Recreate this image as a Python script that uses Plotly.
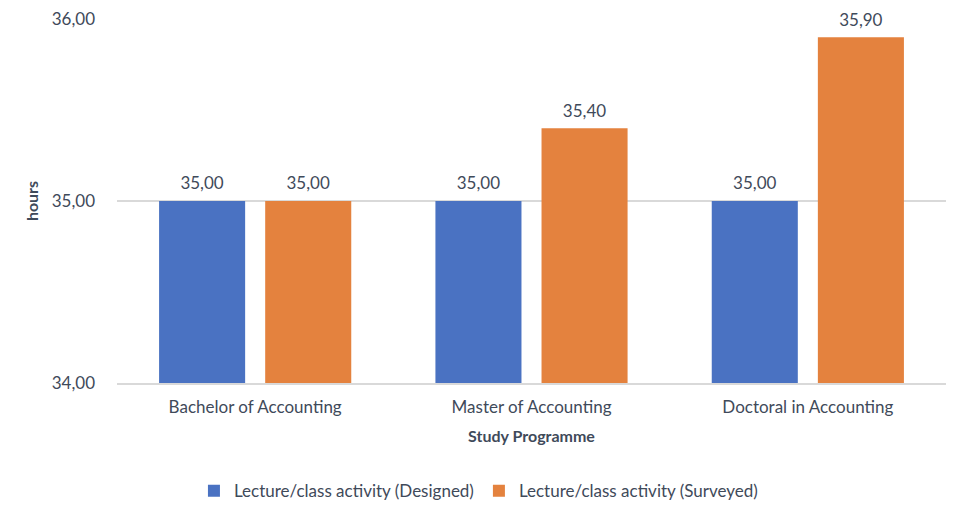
import plotly.graph_objects as go

programmes = ["Bachelor of Accounting", "Master of Accounting", "Doctoral in Accounting"]
designed = [35.00, 35.00, 35.00]
surveyed = [35.00, 35.40, 35.90]
y_ticks = [34, 35, 36]

FONT = "Lato, 'Open Sans', sans-serif"
TXT = "#3F4A5A"
GRID = "#D9D9D9"
# big value line + a tiny invisible line underneath to lift the label off the bar
LABEL = "<span style='font-size:17px'>%{y:.2f}</span><br><span style='color:rgba(0,0,0,0)'>.</span>"

fig = go.Figure()

fig.add_trace(go.Bar(
    x=programmes, y=designed,
    name="Lecture/class activity (Designed)",
    marker=dict(color="#4A72C2", line=dict(width=0)),
    texttemplate=LABEL, textposition="outside",
    textfont=dict(size=6, color=TXT, family=FONT),
    cliponaxis=False
))
fig.add_trace(go.Bar(
    x=programmes, y=surveyed,
    name="Lecture/class activity (Surveyed)",
    marker=dict(color="#E4823E", line=dict(width=0)),
    texttemplate=LABEL, textposition="outside",
    textfont=dict(size=6, color=TXT, family=FONT),
    cliponaxis=False
))

# page body has an 8px offset, so the figure is sized to fit inside the window
fig.update_layout(
    width=956, height=508,
    margin=dict(l=109, r=18, t=11, b=133, autoexpand=False),
    barmode="group", bargap=0.232, bargroupgap=0.189,
    separators=", ",
    plot_bgcolor="white", paper_bgcolor="white",
    font=dict(family=FONT, color=TXT, size=17),
    xaxis=dict(
        title=dict(text="<b>Study Programme</b>", font=dict(size=16, color=TXT), standoff=15),
        tickfont=dict(size=17, color=TXT),
        showline=True, linecolor=GRID, linewidth=1.5,
        ticks="", showgrid=False, automargin=False, ticklabelstandoff=8
    ),
    yaxis=dict(
        title=dict(text="<b>hours</b>", font=dict(size=16, color=TXT), standoff=9),
        range=[34, 36.001], tickvals=y_ticks, tickformat=".2f",
        tickfont=dict(size=17, color=TXT),
        showgrid=True, gridcolor=GRID, gridwidth=1.5,
        zeroline=False, ticks="", ticklabelstandoff=21, automargin=False
    ),
    legend=dict(
        orientation="h", x=0.436, xanchor="center", y=-0.248, yanchor="top",
        font=dict(size=17, color=TXT), traceorder="normal",
        itemwidth=30, tracegroupgap=0
    ),
    showlegend=True
)

fig.write_html("out.html")
